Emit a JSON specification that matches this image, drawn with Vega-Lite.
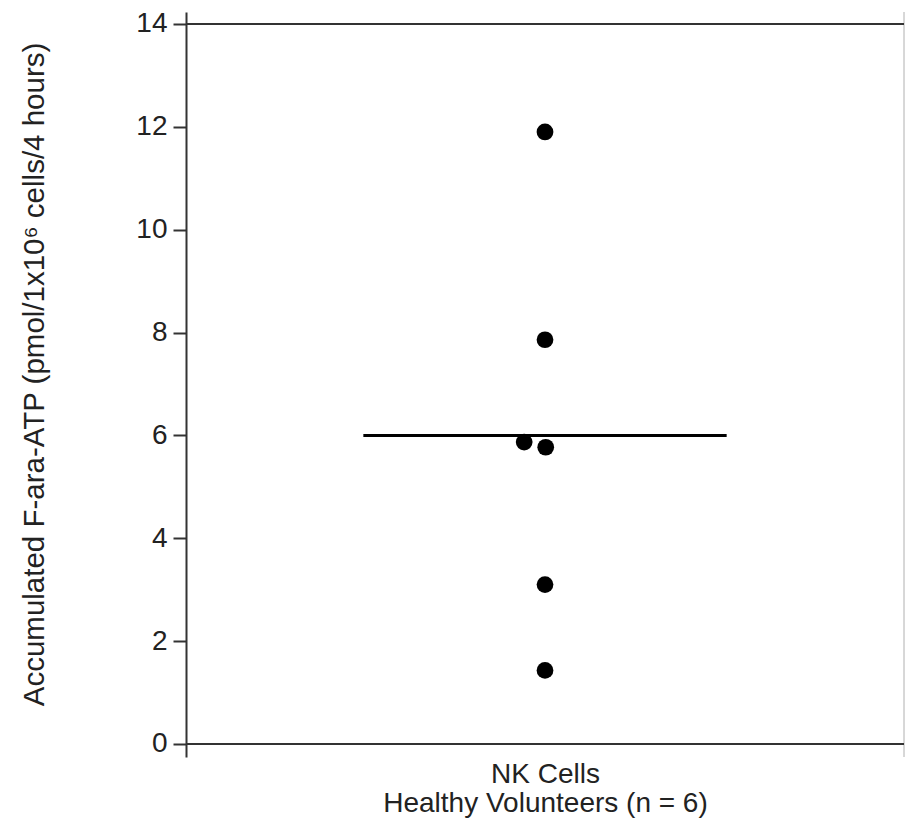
{
  "$schema": "https://vega.github.io/schema/vega-lite/v6.json",
  "width": 718,
  "height": 745,
  "autosize": "none",
  "padding": {"left": 186, "top": 12, "right": 1, "bottom": 70},
  "config": {"view": {"stroke": null}, "font": "Liberation Sans"},
  "datasets": {
    "points": [
      {"group": 0.5, "value": 11.9},
      {"group": 0.5, "value": 7.86},
      {"group": 0.471, "value": 5.87},
      {"group": 0.501, "value": 5.77},
      {"group": 0.5, "value": 3.1},
      {"group": 0.5, "value": 1.43}
    ],
    "frame": [{"v": 0}, {"v": 14}],
    "edge": [{"e": 1}],
    "mean": [{"x1": 0.247, "x2": 0.753, "m": 6.0}]
  },
  "layer": [
    {
      "data": {"name": "edge"},
      "mark": {"type": "rule", "color": "#b0b0b0", "strokeWidth": 1},
      "encoding": {
        "x": {
          "field": "e", "type": "quantitative",
          "scale": {"domain": [0, 1], "nice": false, "zero": false},
          "title": ["NK Cells", "Healthy Volunteers (n = 6)"],
          "axis": {
            "domain": false, "ticks": false, "labels": false, "grid": false,
            "titleFontSize": 28, "titleFontWeight": "normal", "titleColor": "#222222",
            "titlePadding": 3, "titleLineHeight": 29.5
          }
        }
      }
    },
    {
      "data": {"name": "frame"},
      "mark": {"type": "rule", "color": "#333333", "strokeWidth": 2},
      "encoding": {
        "y": {"field": "v", "type": "quantitative", "scale": {"domain": [-0.253, 14.233], "nice": false, "zero": false},
          "title": "Accumulated F-ara-ATP (pmol/1x10⁶ cells/4 hours)"}
      }
    },
    {
      "data": {"name": "points"},
      "mark": {"type": "point", "shape": "circle", "filled": true, "color": "#000000", "size": 280, "opacity": 1},
      "encoding": {
        "x": {
          "field": "group", "type": "quantitative",
          "title": ["NK Cells", "Healthy Volunteers (n = 6)"],
          "axis": {
            "domain": false, "ticks": false, "labels": false, "grid": false,
            "titleFontSize": 28, "titleFontWeight": "normal", "titleColor": "#222222",
            "titlePadding": 3, "titleLineHeight": 29.5
          }
        },
        "y": {
          "field": "value", "type": "quantitative",
          "title": "Accumulated F-ara-ATP (pmol/1x10⁶ cells/4 hours)",
          "axis": {
            "values": [0, 2, 4, 6, 8, 10, 12, 14],
            "grid": false,
            "domainColor": "#333333", "domainWidth": 2,
            "tickColor": "#333333", "tickWidth": 2, "tickSize": 13,
            "labelFontSize": 28, "labelColor": "#222222", "labelPadding": 6,
            "titleFontSize": 29.5, "titleFontWeight": "normal", "titleColor": "#222222",
            "titlePadding": 86, "titleY": 362
          }
        }
      }
    },
    {
      "data": {"name": "mean"},
      "mark": {"type": "rule", "color": "#000000", "strokeWidth": 3},
      "encoding": {
        "x": {"field": "x1", "type": "quantitative", "title": ["NK Cells", "Healthy Volunteers (n = 6)"]},
        "x2": {"field": "x2"},
        "y": {"field": "m", "type": "quantitative", "title": "Accumulated F-ara-ATP (pmol/1x10⁶ cells/4 hours)"}
      }
    }
  ]
}
